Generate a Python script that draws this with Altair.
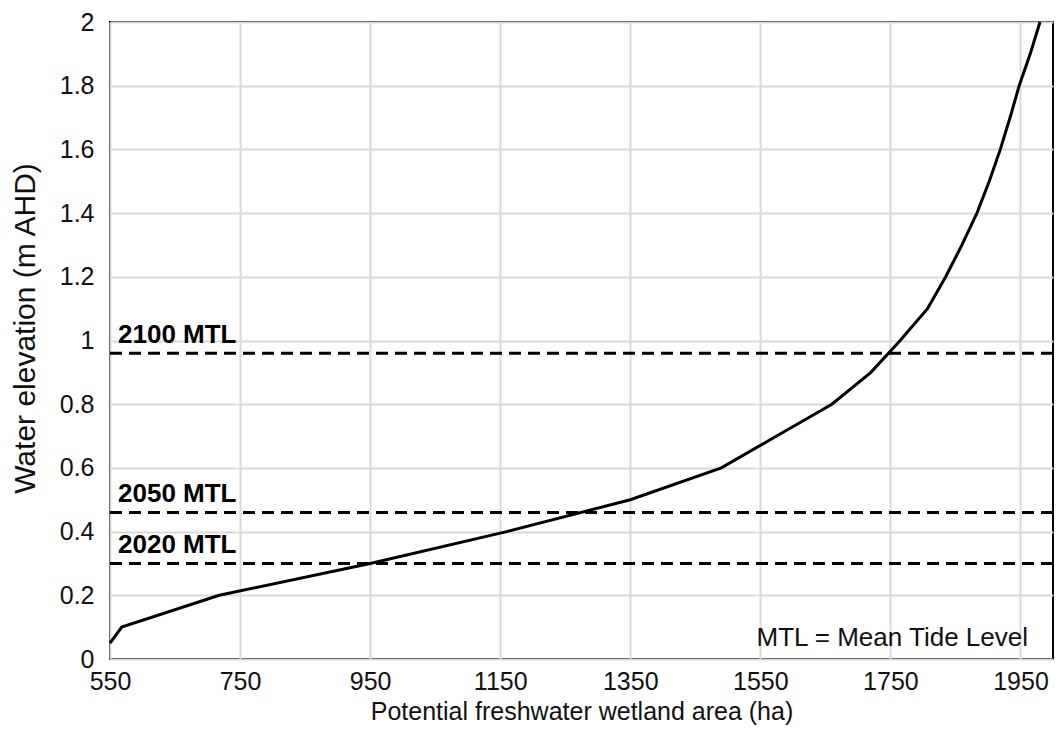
import altair as alt
import pandas as pd

# Curve: wetland area (ha) vs water elevation (m AHD)
area_ha = [550, 568, 718, 950, 1160, 1350, 1490, 1575, 1660, 1720, 1765,
           1807, 1835, 1860, 1883, 1902, 1919, 1934, 1948, 1965, 1980]
elev_m = [0.05, 0.1, 0.2, 0.3, 0.4, 0.5, 0.6, 0.7, 0.8, 0.9, 1.0,
          1.1, 1.2, 1.3, 1.4, 1.5, 1.6, 1.7, 1.8, 1.9, 2.0]

# Mean tide levels
mtl_labels = ["2020 MTL", "2050 MTL", "2100 MTL"]
mtl_values = [0.3, 0.46, 0.96]

x_ticks = [550, 750, 950, 1150, 1350, 1550, 1750, 1950]
y_ticks = [0, 0.2, 0.4, 0.6, 0.8, 1.0, 1.2, 1.4, 1.6, 1.8, 2.0]

FONT = "Liberation Sans"
TXT = "#111111"

curve_df = pd.DataFrame({"area": area_ha, "elev": elev_m})
mtl_df = pd.DataFrame({"label": mtl_labels, "elev": mtl_values, "x0": [550] * 3})
note_df = pd.DataFrame({"label": ["MTL = Mean Tide Level"], "x": [2000], "y": [0]})

x_scale = alt.Scale(domain=[550, 2000], nice=False, zero=False)
y_scale = alt.Scale(domain=[0, 2], nice=False)

x_axis = alt.Axis(values=x_ticks, title="Potential freshwater wetland area (ha)",
                  format="d", grid=True, ticks=False, domain=False, labelPadding=10,
                  labelFontSize=25, titleFontSize=25, titlePadding=5,
                  labelColor=TXT, titleColor=TXT, labelFont=FONT,
                  titleFont=FONT, titleFontWeight="normal", gridColor="#d9d9d9",
                  gridWidth=2, labelFlush=False)
y_axis = alt.Axis(values=y_ticks, title="Water elevation (m AHD)", format=".1~f",
                  grid=True, ticks=False, domain=False, labelPadding=16,
                  labelFontSize=25, titleFontSize=30, titleX=-70, titleY=306,
                  titleAngle=270, titleAlign="center", titleBaseline="bottom",
                  labelColor=TXT, titleColor=TXT, labelFont=FONT,
                  titleFont=FONT, titleFontWeight="normal", gridColor="#d9d9d9",
                  gridWidth=2, labelFlush=False)

curve = alt.Chart(curve_df).mark_line(color="black", strokeWidth=3).encode(
    x=alt.X("area:Q", scale=x_scale, axis=x_axis),
    y=alt.Y("elev:Q", scale=y_scale, axis=y_axis),
    order="elev:Q",
)

rules = alt.Chart(mtl_df).mark_rule(color="black", strokeWidth=3, strokeDash=[12, 7]).encode(
    y=alt.Y("elev:Q", scale=y_scale),
)

labels = alt.Chart(mtl_df).mark_text(
    align="left", baseline="alphabetic", dx=8, dy=-10, font=FONT,
    fontSize=26, fontWeight="bold", color="black"
).encode(
    x=alt.X("x0:Q", scale=x_scale),
    y=alt.Y("elev:Q", scale=y_scale),
    text="label:N",
)

note = alt.Chart(note_df).mark_text(
    align="right", baseline="alphabetic", dx=-25, dy=-13, font=FONT,
    fontSize=26, color=TXT
).encode(
    x=alt.X("x:Q", scale=x_scale),
    y=alt.Y("y:Q", scale=y_scale),
    text="label:N",
)

chart = alt.layer(curve, rules, labels, note).properties(
    width=943, height=637,
    padding={"left": 110, "top": 22, "right": 3, "bottom": 86},
    autosize=alt.AutoSizeParams(type="none"),
    background="white",
).configure_view(stroke="black", strokeWidth=2)

chart.save("out.html", embed_options={"renderer": "svg", "actions": False})
